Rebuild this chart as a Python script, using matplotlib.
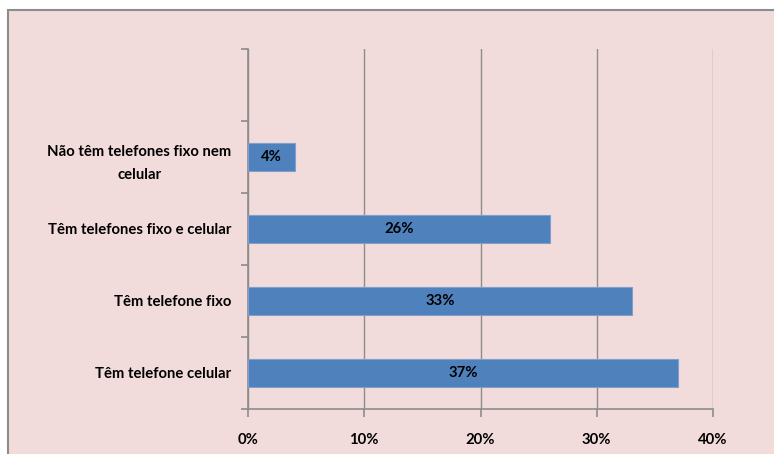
import matplotlib.pyplot as plt
from matplotlib.patches import Rectangle

# dados da pesquisa (percentual de domicílios)
categorias = ['Têm telefone celular', 'Têm telefone fixo',
              'Têm telefones fixo e celular', 'Não têm telefones fixo nem\ncelular', '']
valores = [37, 33, 26, 4]
ticks_x = [0, 10, 20, 30, 40]

fundo = '#F2DCDB'
cinza = '#8C8C8C'
azul = '#4F81BD'

plt.rcParams['font.family'] = ['Lato', 'DejaVu Sans']
plt.rcParams['font.weight'] = 'bold'

fig = plt.figure(figsize=(7.74, 4.54), dpi=100)
fig.patch.set_facecolor('white')

# moldura rosa da área do gráfico
fig.patches.append(Rectangle((8 / 774, -0.1), 1.0, (454 - 10) / 454 + 0.1,
                             transform=fig.transFigure, facecolor=fundo,
                             edgecolor=cinza, linewidth=1.5, zorder=-1))

ax = fig.add_axes([248 / 774, 1 - 409 / 454, 465 / 774, 360 / 454])
ax.set_zorder(1)
ax.patch.set_alpha(0)

pos = list(range(len(categorias)))
barras = ax.barh(pos[:len(valores)], valores, height=0.4, color=azul,
                 edgecolor='#7F9FCF', linewidth=0.8, zorder=3)

for b, v in zip(barras, valores):
    ax.text(b.get_x() + b.get_width() / 2, b.get_y() + b.get_height() / 2,
            f'{v}%', ha='center', va='center', fontsize=10.7, fontweight='bold',
            color='black', zorder=4)

ax.set_xlim(0, 40)
ax.set_ylim(-0.5, len(categorias) - 0.5)
ax.set_xticks(ticks_x)
ax.set_xticklabels([f'{t}%' for t in ticks_x], fontsize=10.7, fontweight='bold')

# marcas de categoria nas divisões entre as barras
ax.set_yticks([p - 0.5 for p in pos] + [len(categorias) - 0.5])
ax.set_yticklabels([])
ax.set_yticks(pos, minor=True)
ax.set_yticklabels(categorias, minor=True, fontsize=10.7, fontweight='bold',
                   multialignment='center', linespacing=1.9)
ax.tick_params(axis='y', which='minor', length=0, pad=12)
ax.tick_params(axis='y', which='major', length=5, color=cinza, width=1.2)
ax.tick_params(axis='x', length=6, color=cinza, width=1.2, pad=11)

ax.grid(axis='x', color=cinza, linewidth=1, zorder=1)
for lado in ['top', 'right']:
    ax.spines[lado].set_visible(False)
for lado in ['left', 'bottom']:
    ax.spines[lado].set_color(cinza)
    ax.spines[lado].set_linewidth(1.2)

fig.savefig('out.png', dpi=100)
